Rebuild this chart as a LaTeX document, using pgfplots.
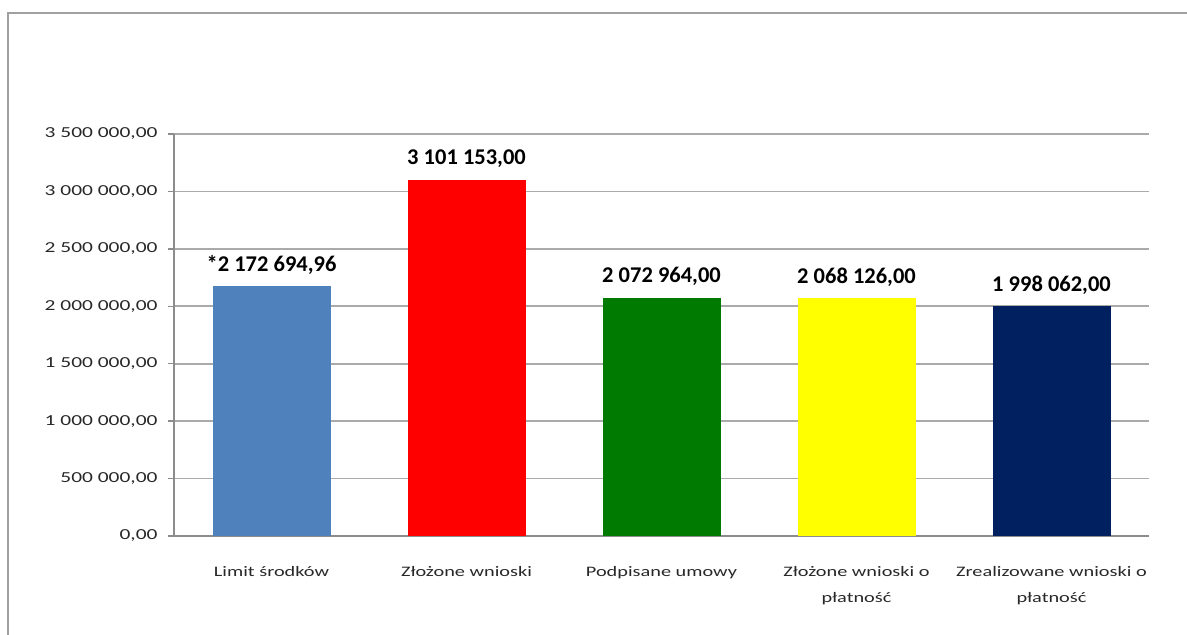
\documentclass[border=0pt]{standalone}
\usepackage{fontspec}
\setmainfont[FakeStretch=1.4]{Carlito}
\newfontfamily\valfont{Carlito}
\usepackage{pgfplots}
\pgfplotsset{compat=1.18}
\definecolor{barblue}{RGB}{79,129,189}
\definecolor{barred}{RGB}{255,0,0}
\definecolor{bargreen}{RGB}{0,122,0}
\definecolor{baryellow}{RGB}{255,255,0}
\definecolor{barnavy}{RGB}{0,32,96}
\definecolor{gridgray}{RGB}{170,170,170}
\definecolor{axisgray}{RGB}{140,140,140}
\definecolor{framegray}{RGB}{160,160,160}
\definecolor{txt}{RGB}{40,40,40}
\begin{document}
\begin{tikzpicture}[x=1bp,y=1bp]
\useasboundingbox (0,0) rectangle (1187,635);
% outer chart frame (only top and left edges are inside the picture)
\draw[framegray, line width=2bp] (8,-20) -- (8,622) -- (1187,622);
\begin{axis}[
    at={(174bp,99bp)}, anchor=south west,
    scale only axis,
    width=975bp, height=402bp,
    xmin=-0.5, xmax=4.5,
    ymin=0, ymax=3500000,
    axis lines*=left,
    axis line style={axisgray, line width=1.5bp},
    ybar, bar width=118bp, bar shift=0pt,
    ymajorgrids,
    grid style={gridgray, line width=1.8bp},
    tick align=outside,
    major tick length=6bp,
    ytick style={axisgray, line width=1.5bp},
    xtick style={draw=none},
    scaled y ticks=false,
    ytick={0,500000,1000000,1500000,2000000,2500000,3000000,3500000},
    yticklabels={{0,00},{500 000,00},{1 000 000,00},{1 500 000,00},{2 000 000,00},{2 500 000,00},{3 000 000,00},{3 500 000,00}},
    yticklabel style={font=\fontsize{15.3bp}{18bp}\selectfont, text=txt, anchor=east, xshift=-7bp},
    xtick={0,1,2,3,4},
    xticklabels={Limit środków, Złożone wnioski, Podpisane umowy, Złożone wnioski o\\płatność, Zrealizowane wnioski o\\płatność},
    xticklabel style={align=center, font=\fontsize{14.5bp}{26bp}\selectfont, text=txt, anchor=north, yshift=-21bp},
    every node near coord/.append style={font=\valfont\bfseries\fontsize{22.5bp}{27bp}\selectfont, text=black, anchor=base, yshift=15bp},
]
\addplot[fill=barblue, draw=none, nodes near coords={*2 172 694,96}] coordinates {(0,2172694.96)};
\addplot[fill=barred, draw=none, nodes near coords={3 101 153,00}] coordinates {(1,3101153)};
\addplot[fill=bargreen, draw=none, nodes near coords={2 072 964,00}] coordinates {(2,2072964)};
\addplot[fill=baryellow, draw=none, nodes near coords={2 068 126,00}] coordinates {(3,2068126)};
\addplot[fill=barnavy, draw=none, nodes near coords={1 998 062,00}] coordinates {(4,1998062)};
\end{axis}
\end{tikzpicture}
\end{document}
